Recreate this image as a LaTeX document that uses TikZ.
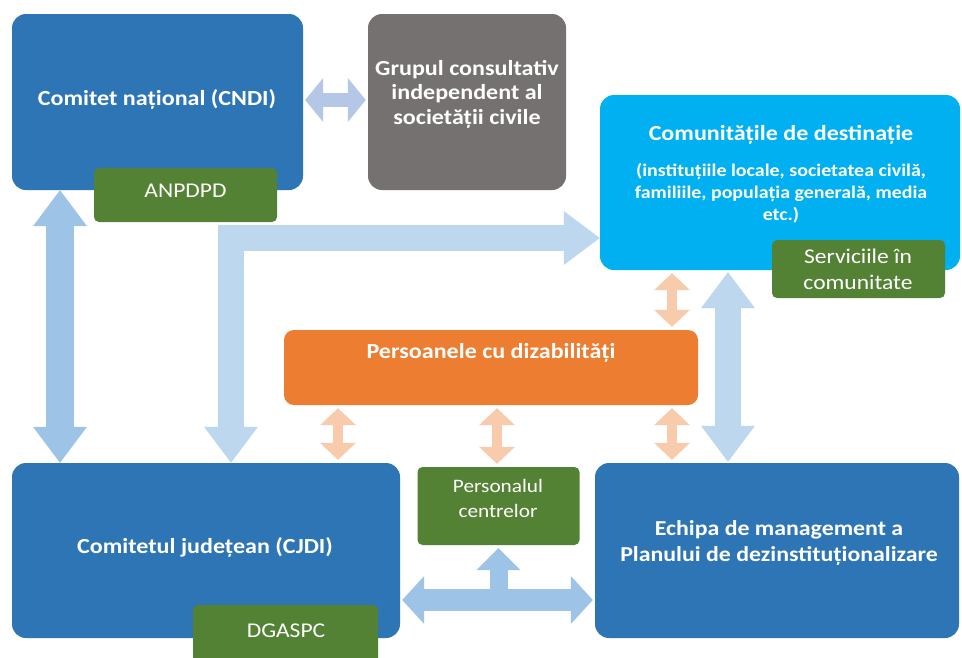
\documentclass[tikz,border=0pt]{standalone}
\usepackage{fontspec}
\setmainfont[FakeStretch=1.12]{Carlito}
\usetikzlibrary{arrows.meta}
\definecolor{dblue}{HTML}{2E75B6}
\definecolor{greybox}{HTML}{767171}
\definecolor{cyanbox}{HTML}{00B0F0}
\definecolor{greenbox}{HTML}{548235}
\definecolor{orangebox}{HTML}{ED7D31}
\definecolor{arrA}{HTML}{9DC3E6}
\definecolor{arrB}{HTML}{BDD7EE}
\definecolor{arrC}{HTML}{B4C7E7}
\definecolor{peach}{HTML}{F8CBAD}
\begin{document}
\begin{tikzpicture}[x=1pt,y=-1pt,
  bigbox/.style={rectangle, rounded corners=14pt, inner sep=0pt, draw=none},
  smallbox/.style={rectangle, rounded corners=5pt, inner sep=0pt, draw=none, fill=greenbox},
  wt/.style={text=white, inner sep=0pt, align=center},
  boldbig/.style={font=\fontsize{21.5}{24.5}\selectfont\bfseries},
  regbig/.style={font=\fontsize{21}{26}\selectfont},
  peacharrow/.style={draw=peach, line width=10pt, shorten <=3pt, shorten >=3pt,
    {Triangle[width=36pt,length=17pt,line width=0pt]}-{Triangle[width=36pt,length=17pt,line width=0pt]}},
  bluearrow/.style={line width=28pt, line join=miter,
    {Triangle[width=54pt,length=36pt,line width=0pt]}-{Triangle[width=54pt,length=36pt,line width=0pt]}}
]
\useasboundingbox (0,0) rectangle (962,657);
\clip (0,0) rectangle (962,657);
\fill[white] (0,0) rectangle (962,657);

% ---------- boxes ----------
\node[bigbox, fill=dblue, minimum width=291pt, minimum height=176pt] (cndi) at (157.5,102) {};
\node[bigbox, fill=greybox, minimum width=198pt, minimum height=176pt] (grey) at (467,102) {};
\node[bigbox, fill=cyanbox, minimum width=360pt, minimum height=175pt] (cyan) at (780,182.5) {};
\node[bigbox, rounded corners=10pt, fill=orangebox, minimum width=414pt, minimum height=75pt] (ora) at (491,367.5) {};
\node[bigbox, fill=dblue, minimum width=388pt, minimum height=175pt] (cjdi) at (206,550.5) {};
\node[bigbox, fill=dblue, minimum width=364pt, minimum height=175pt] (ech) at (777,550.5) {};

\node[smallbox, minimum width=183pt, minimum height=54pt] (anp) at (185.5,195) {};
\node[smallbox, minimum width=173pt, minimum height=58pt] (serv) at (858.5,269) {};
\node[smallbox, minimum width=185pt, minimum height=62pt] (dga) at (285.5,636) {};
\node[smallbox, minimum width=162pt, minimum height=78pt] (pers) at (498.5,506) {};

% ---------- connectors ----------
\coordinate (xL) at (60,0);
\coordinate (xLL) at (231,238);
\coordinate (xR) at (728,0);
\coordinate (xP1) at (338,0);
\coordinate (xP2) at (497,0);
\coordinate (xP3) at (672,0);
\coordinate (yG) at (0,100);
\coordinate (yT) at (0,600);

\draw[bluearrow, draw=arrA] (cndi.south -| xL) -- (cjdi.north -| xL);
\draw[bluearrow, draw=arrB, line width=26pt] (cjdi.north -| xLL) |- (cyan.west |- xLL);
\draw[bluearrow, draw=arrB, line width=26pt] ([yshift=-2pt]cyan.south -| xR) -- ([yshift=1pt]ech.north -| xR);
\draw[draw=arrC, line width=14pt, shorten <=2pt, shorten >=2pt,
  {Triangle[width=44pt,length=18pt,line width=0pt]}-{Triangle[width=44pt,length=18pt,line width=0pt]}]
  (cndi.east |- yG) -- (grey.west |- yG);

\draw[peacharrow] (cyan.south -| xP3) -- (ora.north -| xP3);
\draw[peacharrow] (ora.south -| xP1) -- (cjdi.north -| xP1);
\draw[peacharrow] (ora.south -| xP2) -- (pers.north -| xP2);
\draw[peacharrow] (ora.south -| xP3) -- (ech.north -| xP3);

\draw[draw=arrA, line width=22pt, shorten <=2pt, shorten >=2pt,
  {Triangle[width=48pt,length=22pt,line width=0pt]}-{Triangle[width=48pt,length=22pt,line width=0pt]}]
  (cjdi.east |- yT) -- (ech.west |- yT);
\draw[draw=arrA, line width=18pt, shorten >=3pt,
  -{Triangle[width=44pt,length=22pt,line width=0pt]}]
  (pers.south |- yT) -- (pers.south);

% ---------- texts ----------
\node[wt, boldbig] (tcndi) at (157,99) {Comitet național (CNDI)};
\node[wt, boldbig] (tgrey) at (467,94) {Grupul consultativ\\independent al\\societății civile};
\node[wt, boldbig] (tcyan) at (781,135) {Comunitățile de destinație};
\node[wt, font=\fontsize{17.8}{22}\selectfont\bfseries] (tcyan2) at (781,193) {(instituțiile locale, societatea civilă,\\familiile, populația generală, media\\etc.)};
\node[wt, regbig] (tserv) at (858,269) {Serviciile în\\comunitate};
\node[wt, regbig] (tanp) at (185.5,191) {ANPDPD};
\node[wt, boldbig] (tora) at (491,353) {Persoanele cu dizabilități};
\node[wt, boldbig] (tcjdi) at (205,547) {Comitetul județean (CJDI)};
\node[wt, regbig] (tdga) at (286,631) {DGASPC};
\node[wt, font=\fontsize{19}{25}\selectfont] (tpers) at (498,498) {Personalul\\centrelor};
\node[wt, font=\fontsize{21.3}{26}\selectfont\bfseries] (tech) at (779,543) {Echipa de management a\\Planului de dezinstituționalizare};
\end{tikzpicture}
\end{document}
